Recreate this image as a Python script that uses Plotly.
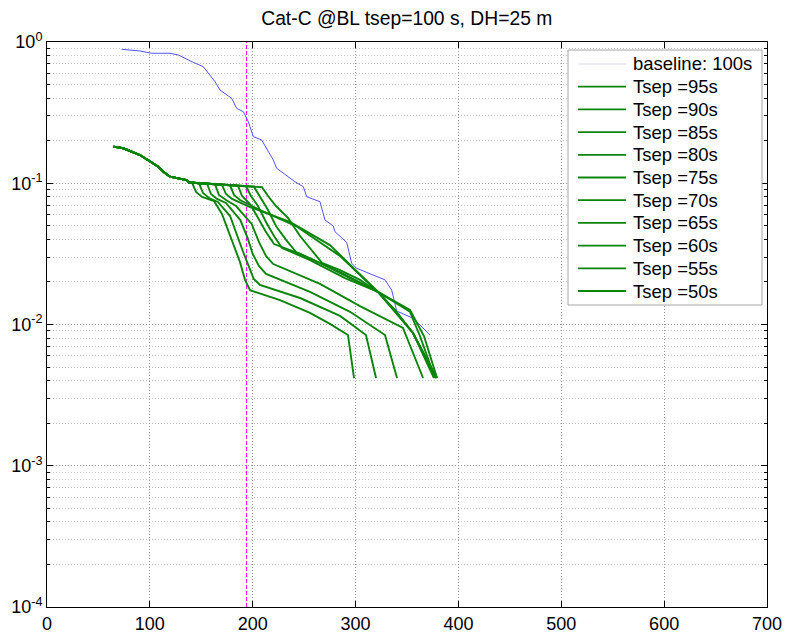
import plotly.graph_objects as go

# ---- data -------------------------------------------------------------
title_text = "Cat-C @BL tsep=100 s, DH=25 m"

x_ticks = [0, 100, 200, 300, 400, 500, 600, 700]
y_ticks = [1e-4, 1e-3, 1e-2, 1e-1, 1]
y_tick_text = ["10<sup>-4</sup>", "10<sup>-3</sup>", "10<sup>-2</sup>",
               "10<sup>-1</sup>", "10<sup>0</sup>"]

marker_x = 194  # dashed reference distance

# baseline curve, tsep = 100 s
baseline_name = "baseline: 100s"
baseline_x = [72.6, 90.4, 101.8, 119.6, 127.7, 135.8, 142.2, 151.9, 163.3, 168.2,
              179.6, 184.4, 190.9, 195.7, 200.6, 208.7, 220.0, 223.3, 241.1, 249.2,
              252.5, 265.4, 270.3, 278.3, 280.0, 291.4, 296.2, 301.1, 314.0, 328.6,
              335.1, 338.3, 340.0, 356.1, 372.4]
baseline_y = [0.888, 0.864, 0.832, 0.832, 0.809, 0.754, 0.718, 0.669, 0.524, 0.457,
              0.399, 0.339, 0.321, 0.273, 0.2136, 0.2024, 0.146, 0.1276, 0.1025, 0.0945,
              0.0803, 0.0740, 0.0549, 0.0498, 0.0454, 0.0381, 0.0271, 0.0250, 0.0230, 0.0207,
              0.01755, 0.01413, 0.01246, 0.01106, 0.00843]

# leading part shared by every reduced-separation curve
common_x = [64.5, 74.2, 90.4, 100.1, 108.2, 113.1, 119.6, 135.8, 138.1]
common_y = [0.1815, 0.1768, 0.1585, 0.1421, 0.131, 0.1207, 0.1113, 0.1054, 0.1012]

# remaining part of each reduced-separation curve
x_95 = [209.0, 214.9, 222.6, 234.3, 246.0, 257.6, 267.4, 284.9, 304.3, 321.8, 352.9, 366.5, 379.2]
y_95 = [0.0938, 0.0812, 0.0690, 0.0568, 0.0423, 0.0337, 0.0273, 0.0243, 0.0207, 0.0170, 0.0127, 0.00829, 0.00418]

x_90 = [201.2, 207.1, 214.9, 222.6, 232.4, 242.1, 263.5, 294.6, 321.8, 335.4, 355.8, 378.2]
y_90 = [0.0945, 0.0799, 0.0646, 0.0498, 0.0397, 0.0326, 0.0277, 0.0213, 0.0170, 0.0131, 0.00871, 0.00418]

x_85 = [193.5, 198.3, 205.1, 212.9, 220.7, 228.5, 255.7, 289.7, 321.8, 343.2, 355.8, 376.2]
y_85 = [0.0953, 0.0812, 0.0690, 0.0532, 0.0423, 0.0348, 0.0286, 0.0213, 0.0170, 0.0111, 0.00871, 0.00418]

x_80 = [185.7, 189.6, 197.4, 205.1, 212.9, 220.7, 246.0, 284.9, 321.8, 352.9, 362.6, 377.2]
y_80 = [0.0961, 0.0812, 0.0713, 0.0568, 0.0452, 0.0371, 0.0316, 0.0235, 0.0170, 0.0123, 0.00829, 0.00418]

x_75 = [177.9, 181.8, 187.6, 205.1, 242.1, 284.9, 321.8, 339.3, 355.8, 379.2]
y_75 = [0.0969, 0.0826, 0.0761, 0.0657, 0.0498, 0.0305, 0.0170, 0.0123, 0.00871, 0.00418]

x_70 = [170.1, 174.0, 179.9, 197.4, 236.2, 275.1, 321.8, 338.3, 355.8, 378.2]
y_70 = [0.0978, 0.0839, 0.0774, 0.0679, 0.0532, 0.0365, 0.0170, 0.0127, 0.00871, 0.00418]

x_65 = [163.3, 167.2, 174.0, 183.8, 199.0, 206.0, 213.0, 220.0, 265.4, 304.3, 346.1, 365.6]
y_65 = [0.0985, 0.0826, 0.0761, 0.0690, 0.0515, 0.0384, 0.0305, 0.0268, 0.0194, 0.0135, 0.00945, 0.00418]

x_60 = [155.6, 159.4, 165.3, 174.0, 188.0, 195.0, 200.0, 206.0, 213.0, 255.7, 294.6, 328.6, 340.3]
y_60 = [0.0993, 0.0839, 0.0774, 0.0725, 0.0549, 0.0410, 0.0316, 0.0260, 0.0228, 0.0170, 0.0123, 0.00843, 0.00418]

x_55 = [147.8, 151.7, 157.5, 166.2, 178.0, 184.0, 190.0, 196.0, 201.0, 207.0, 246.0, 284.9, 310.1, 319.9]
y_55 = [0.1001, 0.0853, 0.0786, 0.0737, 0.0586, 0.0437, 0.0337, 0.0260, 0.0210, 0.0191, 0.0154, 0.0115, 0.00843, 0.00418]

x_50 = [141.0, 144.9, 150.7, 162.4, 170.1, 176.0, 181.8, 187.6, 192.5, 197.4, 226.5, 255.7, 275.1, 292.6, 298.5]
y_50 = [0.1009, 0.0867, 0.0799, 0.0749, 0.0606, 0.0467, 0.0359, 0.0277, 0.0207, 0.0175, 0.0149, 0.0121, 0.0101, 0.00843, 0.00418]

tsep_values = [95, 90, 85, 80, 75, 70, 65, 60, 55, 50]
tails_x = [x_95, x_90, x_85, x_80, x_75, x_70, x_65, x_60, x_55, x_50]
tails_y = [y_95, y_90, y_85, y_80, y_75, y_70, y_65, y_60, y_55, y_50]

# ---- styling ----------------------------------------------------------
FONT = "Arial, Liberation Sans, sans-serif"
GREEN = "#0b840b"
BLUE = "#4040ff"
GRID = "#9a9a9a"
MINOR_GRID = "#c4c4c4"
GRID_DASH = "1px,2px"

fig = go.Figure()

# dashed marker line (drawn first so curves sit on top)
fig.add_trace(go.Scatter(
    x=[marker_x, marker_x], y=[y_ticks[0], y_ticks[-1]], mode="lines",
    line=dict(color="#ff00ff", width=1, dash="4px,2px"),
    showlegend=False, hoverinfo="skip"))

fig.add_trace(go.Scatter(
    x=baseline_x, y=baseline_y, mode="lines",
    line=dict(color=BLUE, width=0.9), name=baseline_name))

for tsep, tx, ty in zip(tsep_values, tails_x, tails_y):
    fig.add_trace(go.Scatter(
        x=common_x + tx, y=common_y + ty, mode="lines",
        line=dict(color=GREEN, width=1.9),
        name=f"Tsep ={tsep}s"))

# ---- legend box (MATLAB style: long samples, tight rows) ---------------
legend_names = [baseline_name] + [f"Tsep ={t}s" for t in tsep_values]
legend_colors = ["#dcdcf2"] + [GREEN] * len(tsep_values)

plot_l, plot_r, plot_t, plot_b = 47, 767, 42, 607
pw, ph = plot_r - plot_l, plot_b - plot_t


def px_x(p):
    return (p - plot_l) / pw


def px_y(p):
    return 1 - (p - plot_t) / ph


shapes = [dict(type="rect", xref="paper", yref="paper",
               x0=px_x(568), x1=px_x(762), y0=px_y(305), y1=px_y(50),
               line=dict(color="#a6a6a6", width=1), fillcolor="white", layer="above")]
annotations = []
row0, row_step = 64, 22.7
for i, (name, col) in enumerate(zip(legend_names, legend_colors)):
    yy = px_y(row0 + i * row_step)
    shapes.append(dict(type="line", xref="paper", yref="paper",
                       x0=px_x(578), x1=px_x(626), y0=yy, y1=yy,
                       line=dict(color=col, width=1.8 if i else 1.2), layer="above"))
    annotations.append(dict(xref="paper", yref="paper", x=px_x(631), y=yy,
                            xanchor="left", yanchor="middle", showarrow=False,
                            text=name, font=dict(family=FONT, size=18.5, color="black")))

fig.update_layout(
    width=786, height=634,
    margin=dict(l=plot_l, r=786 - plot_r, t=plot_t, b=634 - plot_b, autoexpand=False),
    paper_bgcolor="white", plot_bgcolor="white",
    font=dict(family=FONT, size=18, color="black"),
    title=dict(text=title_text, x=0.5175, xanchor="center",
               y=0.972, yanchor="middle",
               font=dict(family=FONT, size=19.3, color="black")),
    showlegend=False,
    shapes=shapes,
    annotations=annotations,
)

fig.update_xaxes(
    range=[0, 700], tickvals=x_ticks, ticktext=[str(v) for v in x_ticks],
    automargin=False,
    showline=True, linecolor="black", linewidth=1, mirror="ticks",
    ticks="inside", ticklen=6, tickcolor="black",
    showgrid=True, gridcolor=GRID, griddash=GRID_DASH, gridwidth=1,
    zeroline=False, tickfont=dict(family=FONT, size=18))

fig.update_yaxes(
    type="log", range=[-4, 0], tickvals=y_ticks, ticktext=y_tick_text,
    automargin=False,
    showline=True, linecolor="black", linewidth=1, mirror="ticks",
    ticks="inside", ticklen=6, tickcolor="black",
    showgrid=True, gridcolor=GRID, griddash=GRID_DASH, gridwidth=1,
    minor=dict(dtick="D1", ticks="inside", ticklen=3, tickcolor="black",
               showgrid=True, gridcolor=MINOR_GRID, griddash=GRID_DASH, gridwidth=1),
    zeroline=False, tickfont=dict(family=FONT, size=18))

fig.write_html("out.html")
